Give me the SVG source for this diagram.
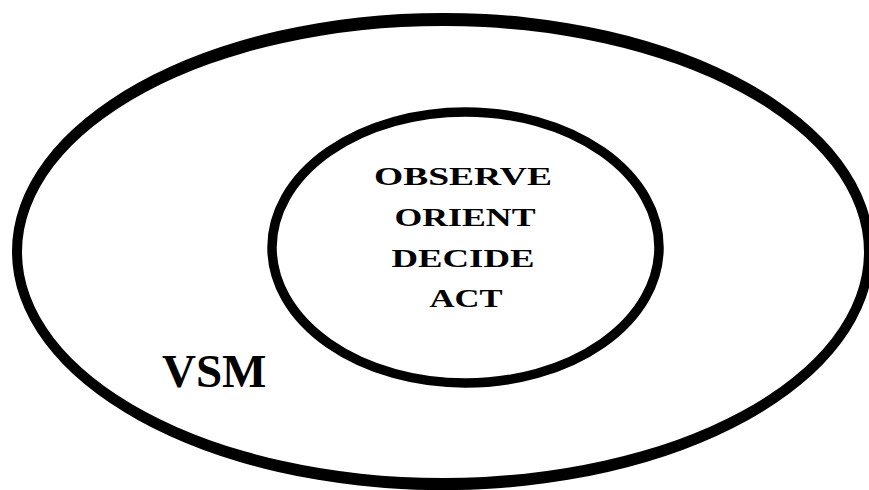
<svg xmlns="http://www.w3.org/2000/svg" width="869" height="490" viewBox="0 0 869 490">
  <style>
    .ring { fill: none; stroke: #000; }
    .band { fill: #000; fill-rule: evenodd; }
    .step { font-family: "Liberation Serif", "Times New Roman", serif; font-weight: bold; font-size: 25px; fill: #000; text-anchor: middle; }
    .title { font-family: "Liberation Serif", "Times New Roman", serif; font-weight: bold; font-size: 47px; fill: #000; }
  </style>
  <rect x="0" y="0" width="869" height="490" fill="#fff"/>
  <g id="vsm">
    <!-- outer ring: thicker at top and bottom than at the sides -->
    <path class="band" d="M12,251.5 A431,238.5 0 1,0 874,251.5 A431,238.5 0 1,0 12,251.5 Z
                          M22,252 A421,226 0 1,0 864,252 A421,226 0 1,0 22,252 Z"/>
    <text class="title" x="162" y="387">VSM</text>
  </g>
  <g id="ooda">
    <ellipse class="ring" cx="465.5" cy="247.5" rx="193.5" ry="135.5" stroke-width="9.5"/>
    <text class="step" x="463" y="185" textLength="178" lengthAdjust="spacingAndGlyphs">OBSERVE</text>
    <text class="step" x="465" y="226" textLength="141" lengthAdjust="spacingAndGlyphs">ORIENT</text>
    <text class="step" x="463" y="267" textLength="143" lengthAdjust="spacingAndGlyphs">DECIDE</text>
    <text class="step" x="466" y="307" textLength="73" lengthAdjust="spacingAndGlyphs">ACT</text>
  </g>
  <g id="connectors"/>
</svg>
